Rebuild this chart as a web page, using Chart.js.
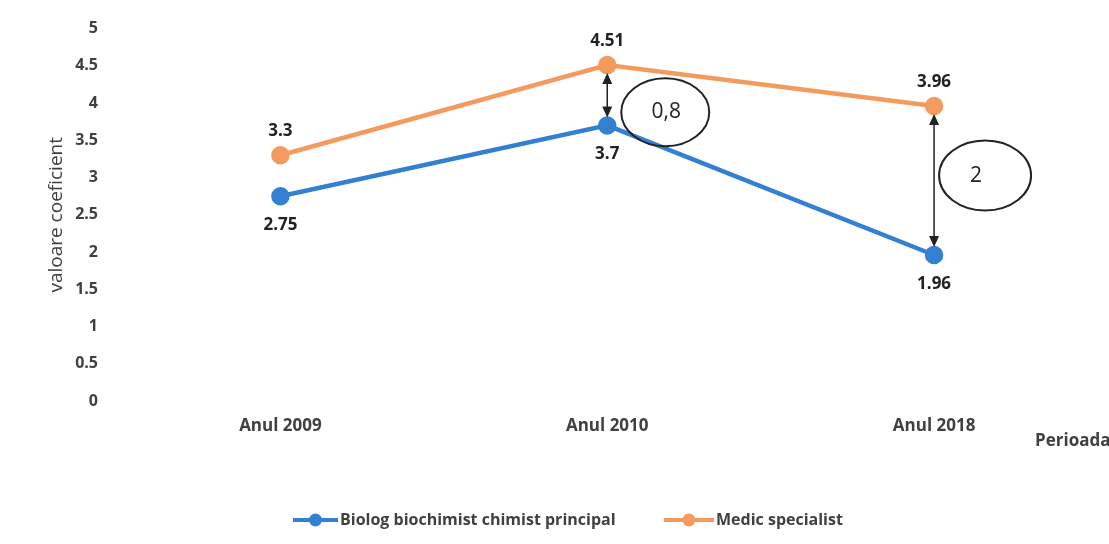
<!DOCTYPE html>
<html>
<head>
<meta charset="utf-8">
<script src="https://cdn.jsdelivr.net/npm/chart.js@4"></script>
<style>
  html, body { margin: 0; padding: 0; background: #fff; }
  #wrap { width: 1109px; height: 544px; position: relative; }
</style>
</head>
<body>
<div id="wrap"><canvas id="coefChart"></canvas></div>
<script>
const categories = ["Anul 2009", "Anul 2010", "Anul 2018"];
const biologValues = [2.75, 3.7, 1.96];
const medicValues = [3.3, 4.51, 3.96];
const yTicks = [0, 0.5, 1, 1.5, 2, 2.5, 3, 3.5, 4, 4.5, 5];
const diffLabels = ["", "0,8", "2"];

const BLUE = "#3380D2";
const ORANGE = "#F59A5E";
const TEXT = "#404040";
const FONT = "'Open Sans', Lato, sans-serif";

// value labels, difference arrows + ellipses, legend, "Perioada"
const extras = {
    id: "extras",
    afterDatasetsDraw(chart) {
        const c = chart.ctx;
        const blue = chart.getDatasetMeta(0).data;
        const orange = chart.getDatasetMeta(1).data;

        c.save();
        c.font = "bold 17px " + FONT;
        c.fillStyle = "#222";
        c.textAlign = "center";
        c.textBaseline = "middle";
        orange.forEach((p, i) => c.fillText(String(medicValues[i]), p.x, p.y - 24));
        blue.forEach((p, i) => c.fillText(String(biologValues[i]), p.x, p.y + 29));

        // arrows + ellipses
        c.strokeStyle = "#222";
        c.fillStyle = "#222";
        diffLabels.forEach((txt, i) => {
            if (!txt) return;
            const x = orange[i].x;
            const y1 = orange[i].y + 8;
            const y2 = blue[i].y - 8;
            c.lineWidth = 1.5;
            c.beginPath();
            c.moveTo(x, y1 + 6);
            c.lineTo(x, y2 - 6);
            c.stroke();
            [[y1, 1], [y2, -1]].forEach(([y, d]) => {
                c.beginPath();
                c.moveTo(x, y);
                c.lineTo(x - 5, y + d * 11);
                c.lineTo(x + 5, y + d * 11);
                c.closePath();
                c.fill();
            });
            const cx = i === 1 ? x + 58 : x + 51;
            const cy = i === 1 ? (orange[i].y + blue[i].y) / 2 + 17 : (orange[i].y + blue[i].y) / 2 - 5;
            c.lineWidth = 2;
            c.beginPath();
            c.ellipse(cx, cy, i === 1 ? 44 : 46, i === 1 ? 34 : 35, 0, 0, Math.PI * 2);
            c.stroke();
            c.font = "21px " + FONT;
            c.fillText(txt, i === 1 ? cx + 1 : cx - 9, cy);
        });

        // "Perioada"
        c.font = "bold 17px " + FONT;
        c.fillStyle = TEXT;
        c.textAlign = "left";
        c.fillText("Perioada", 1035, 441);

        // legend
        const items = [
            { x: 293, tx: 340, label: chart.data.datasets[0].label, color: BLUE },
            { x: 664, tx: 716, label: chart.data.datasets[1].label, color: ORANGE }
        ];
        const ly = 520;
        items.forEach(it => {
            c.strokeStyle = it.color;
            c.fillStyle = it.color;
            c.lineWidth = 4;
            c.beginPath();
            c.moveTo(it.x, ly);
            c.lineTo(it.tx - 2, ly);
            c.stroke();
            c.beginPath();
            c.arc((it.x + it.tx - 2) / 2, ly, 6.5, 0, Math.PI * 2);
            c.fill();
            c.fillStyle = TEXT;
            c.font = "bold 16px " + FONT;
            c.fillText(it.label, it.tx, ly);
        });
        c.restore();
    }
};

new Chart(document.getElementById("coefChart"), {
    type: "line",
    data: {
        labels: categories,
        datasets: [{
            label: "Biolog biochimist chimist principal",
            data: biologValues,
            borderColor: BLUE,
            backgroundColor: BLUE,
            borderWidth: 4.5,
            pointRadius: 7,
            pointHoverRadius: 7,
            tension: 0
        }, {
            label: "Medic specialist",
            data: medicValues,
            borderColor: ORANGE,
            backgroundColor: ORANGE,
            borderWidth: 4.5,
            pointRadius: 7,
            pointHoverRadius: 7,
            tension: 0
        }]
    },
    options: {
        responsive: true,
        maintainAspectRatio: false,
        animation: false,
        layout: { padding: { top: 27, right: 10, bottom: 0, left: 0 } },
        plugins: {
            legend: { display: false },
            tooltip: { enabled: false }
        },
        scales: {
            x: {
                offset: true,
                grid: { display: false, drawTicks: false },
                border: { display: false },
                ticks: { color: TEXT, font: { family: FONT, size: 17, weight: "bold" }, padding: 15, maxRotation: 0 },
                afterFit(scale) { scale.height = 143; }
            },
            y: {
                min: 0,
                max: 5,
                afterBuildTicks(scale) { scale.ticks = yTicks.map(v => ({ value: v })); },
                grid: { display: false, drawTicks: false },
                border: { display: false },
                ticks: {
                    color: TEXT,
                    font: { family: FONT, size: 16, weight: "bold" },
                    padding: 19,
                    callback: v => String(v)
                },
                title: {
                    display: true,
                    text: "valoare coeficient",
                    color: TEXT,
                    font: { family: FONT, size: 19 },
                    padding: { top: 45, bottom: 0 }
                },
                afterFit(scale) { scale.width = 117; }
            }
        }
    },
    plugins: [extras]
});
</script>
</body>
</html>
